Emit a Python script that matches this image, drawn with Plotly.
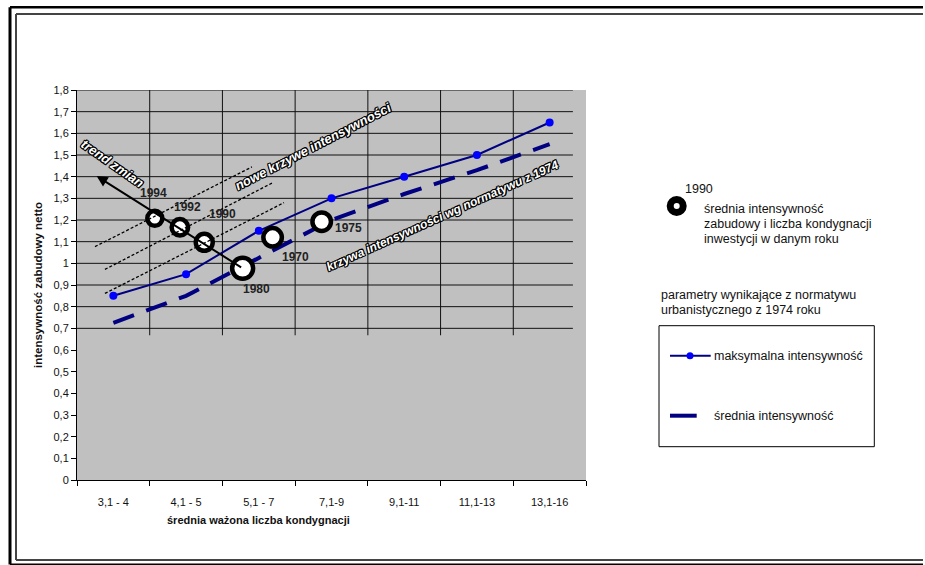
import plotly.graph_objects as go

# ---- data -------------------------------------------------------------
categories = ["3,1 - 4", "4,1 - 5", "5,1 - 7", "7,1-9", "9,1-11", "11,1-13", "13,1-16"]
max_intensity = [0.85, 0.95, 1.15, 1.30, 1.40, 1.50, 1.65]
avg_intensity = [0.725, 0.85, 1.025, 1.20, 1.32, 1.43, 1.55]

# yearly investments: position on the category scale and mean intensity
years = ["1994", "1992", "1990", "1980", "1970", "1975"]
year_floors = [0.57, 0.915, 1.25, 1.778, 2.19, 2.865]
year_intensity = [1.208, 1.166, 1.097, 0.977, 1.12, 1.192]

# "new intensity curves" guide lines (start / end on category & value scales)
guide_x0 = [-0.253, -0.116, -0.116]
guide_y0 = [1.077, 0.972, 0.861]
guide_x1 = [1.906, 2.191, 2.347]
guide_y1 = [1.445, 1.372, 1.280]

# trend arrow: from the 1980 point towards the upper left
trend_from = (1.778, 0.977)
trend_to = (-0.23, 1.403)

y_ticks = [i / 10 for i in range(19)]

# ---- geometry helpers -------------------------------------------------
W, H = 925, 565
L, R, T, B = 77, 339, 90, 85
PW, PH = W - L - R, H - T - B


def px_x(p):
    return (p - L) / PW


def px_y(p):
    return (H - B - p) / PH


FONT = "Arial, Liberation Sans, sans-serif"
WORDART = "Liberation Sans Narrow, Arial Narrow, Liberation Sans, sans-serif"
NAVY = "#000080"
OUTLINE = ("1px 1px 0 #000, -1px -1px 0 #000, 1px -1px 0 #000, -1px 1px 0 #000, "
           "0 1px 0 #000, 0 -1px 0 #000, 1px 0 0 #000, -1px 0 0 #000")

x_idx = list(range(len(categories)))

fig = go.Figure()

fig.add_trace(go.Scatter(
    x=x_idx, y=avg_intensity, mode="lines", name="średnia intensywność",
    line=dict(color=NAVY, width=4, dash="22px,13px"), hoverinfo="skip",
))
fig.add_trace(go.Scatter(
    x=x_idx, y=max_intensity, mode="lines+markers", name="maksymalna intensywność",
    line=dict(color=NAVY, width=2),
    marker=dict(color="#0000FF", size=8, line=dict(width=0)), hoverinfo="skip",
))

ring_sizes = [15, 16.5, 17, 21, 18.5, 18.5]
fig.add_trace(go.Scatter(
    x=year_floors, y=year_intensity, mode="markers", name="lata",
    marker=dict(symbol="circle", color="white", size=ring_sizes, opacity=1,
                line=dict(color="#000000", width=4.5)),
    hoverinfo="skip",
))

shapes = []
annotations = []

# grid drawn over the upper part of the plot area
for v in y_ticks:
    if v >= 0.7 - 1e-9:
        shapes.append(dict(type="line", xref="x", yref="y", x0=-0.5, x1=6.32,
                           y0=v, y1=v, line=dict(color="#111", width=1), layer="below"))
for k in range(6):
    shapes.append(dict(type="line", xref="x", yref="y", x0=k + 0.5, x1=k + 0.5,
                       y0=0.668, y1=1.8, line=dict(color="#111", width=1), layer="below"))

# dotted guide lines
for a, b, c, d in zip(guide_x0, guide_y0, guide_x1, guide_y1):
    shapes.append(dict(type="line", xref="x", yref="y", x0=a, y0=b, x1=c, y1=d,
                       line=dict(color="black", width=1.3, dash="3px,2px"), layer="above"))

# trend arrow
annotations.append(dict(
    x=trend_to[0], y=trend_to[1], ax=trend_from[0], ay=trend_from[1],
    xref="x", yref="y", axref="x", ayref="y", text="", showarrow=True,
    arrowhead=2, arrowsize=1.1, arrowwidth=2, arrowcolor="black",
))

# year labels
label_shift = [(-1, 25), (8, 20), (18, 28), (14, -21), (23, -20), (27, -6)]
for yr, xv, yv, (dx, dy) in zip(years, year_floors, year_intensity, label_shift):
    annotations.append(dict(
        x=xv, y=yv, xref="x", yref="y", text=yr, showarrow=False,
        xshift=dx, yshift=dy, font=dict(family=FONT, size=12, color="#222", weight="bold"),
    ))

# outlined slanted captions
wordart = [
    ("trend zmian", 112.5, 163.5, 35, 13),
    ("nowe krzywe intensywności", 313, 146, -27.4, 13),
    ("krzywa intensywności wg normatywu z 1974", 442, 216, -24.2, 12),
]
for txt, cx, cy, ang, fs in wordart:
    annotations.append(dict(
        x=px_x(cx), y=px_y(cy), xref="paper", yref="paper", text=txt, showarrow=False,
        textangle=ang, xanchor="center", yanchor="middle",
        font=dict(family=WORDART, size=fs, color="white", weight="bold",
                  style="italic", shadow=OUTLINE),
    ))

# axis titles
annotations.append(dict(
    x=px_x(38), y=px_y(285), xref="paper", yref="paper", text="intensywność zabudowy netto",
    showarrow=False, textangle=-90, xanchor="center", yanchor="middle",
    font=dict(family=FONT, size=11.5, color="#111", weight="bold"),
))
annotations.append(dict(
    x=px_x(258), y=px_y(520), xref="paper", yref="paper", text="średnia ważona liczba kondygnacji",
    showarrow=False, xanchor="center", yanchor="middle",
    font=dict(family=FONT, size=11, color="#111", weight="bold"),
))

# explanation of the ring symbol
shapes.append(dict(type="circle", xref="paper", yref="paper",
                   x0=px_x(676.7 - 6.5), x1=px_x(676.7 + 6.5),
                   y0=px_y(206 + 6.5), y1=px_y(206 - 6.5),
                   line=dict(color="black", width=7), fillcolor="white"))
annotations.append(dict(
    x=px_x(683), y=px_y(189), xref="paper", yref="paper", text="1990", showarrow=False,
    xanchor="left", yanchor="middle", font=dict(family=FONT, size=12.5, color="#111"),
))
for i, line in enumerate(["średnia intensywność", "zabudowy i liczba kondygnacji",
                          "inwestycji w danym roku"]):
    annotations.append(dict(
        x=px_x(702), y=px_y(209 + 15 * i), xref="paper", yref="paper", text=line,
        showarrow=False, xanchor="left", yanchor="middle",
        font=dict(family=FONT, size=12.5, color="#111"),
    ))

for i, line in enumerate(["parametry wynikające z normatywu", "urbanistycznego z 1974 roku"]):
    annotations.append(dict(
        x=px_x(659), y=px_y(295 + 15 * i), xref="paper", yref="paper", text=line,
        showarrow=False, xanchor="left", yanchor="middle",
        font=dict(family=FONT, size=12.5, color="#111"),
    ))

# legend box
shapes.append(dict(type="rect", xref="paper", yref="paper",
                   x0=px_x(659), x1=px_x(874.3), y0=px_y(446.7), y1=px_y(325.7),
                   line=dict(color="black", width=1)))
shapes.append(dict(type="line", xref="paper", yref="paper",
                   x0=px_x(670), x1=px_x(710.7), y0=px_y(355.7), y1=px_y(355.7),
                   line=dict(color=NAVY, width=2)))
shapes.append(dict(type="circle", xref="paper", yref="paper",
                   x0=px_x(686.5), x1=px_x(693.5), y0=px_y(359.2), y1=px_y(352.2),
                   line=dict(width=0), fillcolor="#0000FF"))
shapes.append(dict(type="line", xref="paper", yref="paper",
                   x0=px_x(670), x1=px_x(696.7), y0=px_y(415.7), y1=px_y(415.7),
                   line=dict(color=NAVY, width=4)))
for txt, yy in [(fig.data[1].name, 356), (fig.data[0].name, 416)]:
    annotations.append(dict(
        x=px_x(712), y=px_y(yy), xref="paper", yref="paper", text=txt, showarrow=False,
        xanchor="left", yanchor="middle", font=dict(family=FONT, size=12.5, color="#111"),
    ))

# page frame: left, top and bottom edges (double line), open on the right
FRAME_END = 923
frame = [
    (10, 7.2, 10, 564.5, "black", 3),
    (10, 7.2, FRAME_END, 7.2, "black", 2.5),
    (10, 564.5, FRAME_END, 564.5, "black", 2),
    (16, 14, 16, 560, "#444", 2),
    (16, 14, FRAME_END, 14, "#444", 2),
    (16, 560, FRAME_END, 560, "#444", 2),
]
for x0, y0, x1, y1, col, wd in frame:
    shapes.append(dict(type="line", xref="paper", yref="paper",
                       x0=px_x(x0), x1=px_x(x1), y0=px_y(y0), y1=px_y(y1),
                       line=dict(color=col, width=wd)))

fig.update_layout(
    width=W, height=H, margin=dict(l=L, r=R, t=T, b=B),
    paper_bgcolor="white", plot_bgcolor="#C0C0C0",
    separators=", ", showlegend=False,
    font=dict(family=FONT, size=11, color="#111"),
    shapes=shapes, annotations=annotations,
)
fig.update_xaxes(
    range=[-0.5, 6.5], tickvals=x_idx, ticktext=categories, ticks="", showgrid=False,
    zeroline=False, showline=True, linecolor="black", linewidth=1,
    ticklabelstandoff=12, tickfont=dict(family=FONT, size=11, color="#111"),
    minor=dict(tickvals=[k - 0.5 for k in range(8)], ticks="outside", ticklen=5,
               tickcolor="black", tickwidth=1, showgrid=False),
)
fig.update_yaxes(
    range=[0, 1.8], tickvals=y_ticks, ticks="outside", ticklen=5, tickcolor="black",
    showgrid=False, zeroline=False, showline=True, linecolor="black", linewidth=1,
    tickfont=dict(family=FONT, size=11, color="#111"),
)

fig.write_html("out.html")
